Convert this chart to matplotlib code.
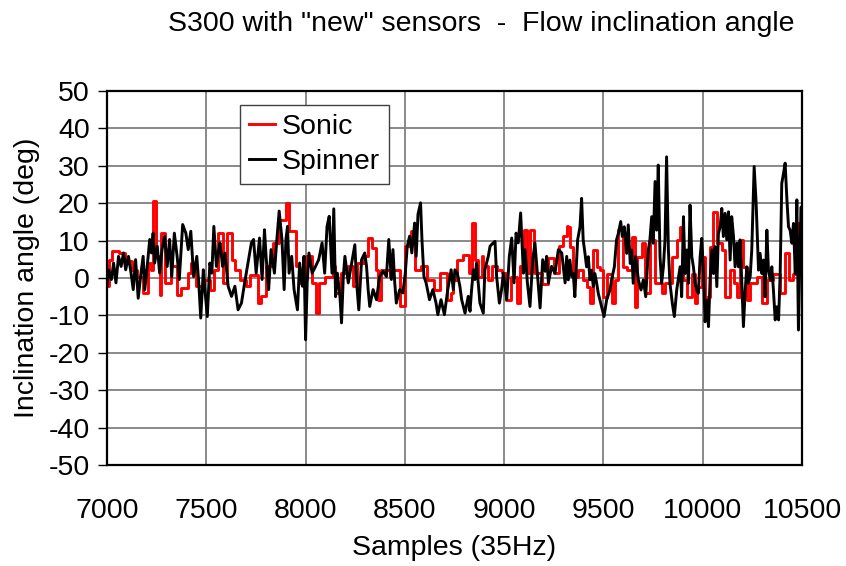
import numpy as np
import matplotlib
matplotlib.use('Agg')
from matplotlib import pyplot as plt

plt.rcParams['font.family'] = ['Liberation Sans', 'DejaVu Sans']
plt.rcParams['axes.unicode_minus'] = False

# Spinner (black) - sample index, inclination angle in degrees
spinner_samples = [
    7000, 7008, 7022, 7033, 7045, 7058, 7071, 7083, 7094, 7108, 7121, 7132, 7144, 7157,
    7171, 7182, 7190, 7204, 7215, 7224, 7232, 7240, 7253, 7265, 7277, 7290, 7303, 7315,
    7326, 7339, 7353, 7364, 7381, 7397, 7409, 7422, 7436, 7452, 7462, 7472, 7485, 7493,
    7505, 7518, 7528, 7538, 7551, 7563, 7569, 7582, 7594, 7610, 7627, 7644, 7660, 7677,
    7693, 7710, 7727, 7738, 7751, 7768, 7781, 7793, 7801, 7814, 7826, 7843, 7854, 7867,
    7881, 7892, 7901, 7909, 7917, 7930, 7942, 7959, 7970, 7984, 7992, 8000, 8008, 8017,
    8033, 8050, 8066, 8083, 8096, 8108, 8119, 8133, 8142, 8151, 8160, 8173, 8181, 8190,
    8198, 8215, 8232, 8248, 8257, 8268, 8282, 8298, 8307, 8315, 8323, 8340, 8357, 8373,
    8390, 8407, 8419, 8432, 8440, 8449, 8457, 8474, 8490, 8502, 8512, 8524, 8535, 8549,
    8557, 8566, 8579, 8586, 8596, 8607, 8624, 8641, 8657, 8666, 8682, 8699, 8716, 8733,
    8744, 8752, 8764, 8777, 8786, 8803, 8819, 8828, 8836, 8845, 8853, 8861, 8878, 8895,
    8903, 8920, 8929, 8945, 8954, 8962, 8976, 8987, 8996, 9013, 9026, 9038, 9050, 9060,
    9071, 9083, 9097, 9105, 9117, 9130, 9144, 9155, 9167, 9181, 9194, 9206, 9214, 9223,
    9239, 9256, 9273, 9290, 9307, 9315, 9323, 9331, 9340, 9348, 9356, 9370, 9382, 9390,
    9398, 9407, 9415, 9424, 9432, 9440, 9449, 9457, 9466, 9474, 9491, 9503, 9516, 9533,
    9541, 9555, 9566, 9575, 9587, 9595, 9605, 9617, 9625, 9635, 9642, 9650, 9662, 9676,
    9689, 9701, 9713, 9726, 9734, 9743, 9751, 9760, 9768, 9776, 9785, 9793, 9802, 9810,
    9818, 9827, 9835, 9847, 9857, 9869, 9886, 9894, 9903, 9911, 9920, 9928, 9936, 9945,
    9953, 9962, 9970, 9978, 9987, 9995, 10004, 10012, 10020, 10029, 10037, 10046, 10054,
    10062, 10071, 10079, 10088, 10096, 10104, 10113, 10121, 10130, 10138, 10146, 10155,
    10163, 10172, 10180, 10188, 10197, 10205, 10214, 10222, 10230, 10239, 10247, 10259,
    10269, 10281, 10289, 10298, 10306, 10314, 10323, 10331, 10340, 10348, 10356, 10365,
    10373, 10382, 10390, 10398, 10407, 10415, 10424, 10432, 10440, 10449, 10457, 10466,
    10474, 10482, 10491, 10496, 10500]
spinner_angle = [
    -2.0, 2.2, -0.4, 4.0, -1.3, 5.8, 3.1, 6.7, 2.2, 5.8, 1.3, -3.1, 4.9, -5.4,
    1.3, 5.8, -3.1, 4.0, 10.3, 6.7, 12.0, 4.0, 8.5, 1.3, 7.6, 11.2, 3.1, 10.3,
    0.4, 12.0, 5.8, -0.4, 14.3, 12.0, 7.6, 12.5, 0.4, 5.8, -1.3, -10.7, 2.2, -3.1,
    -10.3, 4.0, 1.3, 13.8, 3.1, 7.6, 9.4, 3.1, 6.7, -2.2, -4.9, -2.2, -8.5, -6.7,
    -1.3, 4.0, 9.4, 10.3, 1.3, 10.7, -0.4, 12.9, 5.8, -3.1, 7.6, 1.3, 9.4, 17.9,
    10.3, -3.1, 10.3, 13.8, 1.3, 5.8, -3.1, -8.5, 4.0, -2.2, 5.8, -16.5, -1.3, 6.7,
    1.3, 3.1, 4.9, 9.4, 1.3, 13.8, 16.5, 1.3, 18.5, -5.0, 1.3, -4.9, -12.0, 0.4,
    5.8, -1.3, 4.0, 8.9, -1.3, -8.5, 4.9, 6.7, 3.1, -3.1, -7.6, -3.1, -5.8, 0.4,
    1.8, 0.4, 10.3, -0.4, 7.6, -1.3, -6.7, -3.1, -4.0, 1.3, 8.5, 11.2, 6.7, 14.7,
    5.8, 17.0, 20.1, 10.3, 0.4, -1.3, -5.8, -3.1, -6.7, -9.8, -5.8, -9.8, -3.1, 2.2,
    -3.1, 2.2, 1.3, -2.2, -5.8, -9.4, -4.9, -8.9, -3.1, 2.2, -0.4, 4.0, -6.7, -9.4,
    2.2, 5.8, 8.5, 9.4, 9.8, 0.4, -6.7, -3.1, 1.3, -5.8, 5.8, 10.7, -1.3, 12.0,
    9.4, 17.4, 1.3, 7.6, -1.3, -7.6, 4.9, 9.4, 1.3, -8.0, 4.9, 1.8, 5.8, -1.3,
    3.1, 1.3, 7.6, 6.7, -1.3, 5.8, -0.5, 4.8, 0.4, 1.2, -5.0, 10.2, 13.7, 21.3,
    10.2, 6.6, 3.0, 5.7, -0.5, 2.1, -2.3, 1.2, -1.4, -4.1, -7.7, -10.3, -5.9, -3.2,
    -0.5, 3.0, 10.2, 11.9, 15.1, 11.1, 13.7, 6.6, 14.2, 3.9, 7.5, -1.4, 5.7, -0.5,
    -3.2, -0.5, -5.0, 7.5, 10.2, 16.4, 9.3, 25.8, 12.8, 30.2, 5.7, -1.4, 3.0, 10.2,
    32.4, 7.5, -1.4, -6.8, -10.3, -3.2, 3.0, -5.0, 16.4, 1.2, 7.5, -1.4, 19.5, 5.7,
    3.0, -1.4, -3.2, -4.1, 5.7, 10.6, 1.2, -11.7, -5.9, -13.0, -0.5, 7.5, 1.2,
    8.4, -2.3, 11.9, 13.7, 18.6, 11.1, 17.3, 10.2, 17.7, 4.8, 16.4, 11.1,
    3.0, 9.3, 3.0, 10.2, -1.4, -13.0, -3.2, 3.0, -1.4, 0.4, 7.5, 29.8,
    20.0, 2.1, 6.6, 1.2, 4.8, -5.0, 12.8, 2.1, -0.5, 3.0, -3.2, -11.2,
    -7.7, -11.2, 1.2, 25.3, 28.0, 30.7, 20.9, 13.7, 12.8, 9.3, 14.6, 1.2,
    20.9, -13.9, 10.2, 19.0, 2.0]

# Sonic (red) - held values, each starting at the given sample
sonic_samples = [
    7000, 7012, 7025, 7058, 7091, 7124, 7149, 7182, 7204, 7220, 7232, 7248, 7265, 7273,
    7293, 7323, 7353, 7373, 7406, 7422, 7447, 7489, 7518, 7538, 7558, 7586, 7602, 7627,
    7644, 7668, 7702, 7718, 7760, 7776, 7801, 7834, 7867, 7901, 7917, 7950, 7967, 8003,
    8030, 8050, 8066, 8096, 8136, 8148, 8178, 8215, 8240, 8257, 8295, 8315, 8332, 8357,
    8365, 8382, 8424, 8435, 8474, 8502, 8529, 8552, 8579, 8612, 8646, 8679, 8712, 8733,
    8744, 8761, 8794, 8824, 8836, 8853, 8870, 8887, 8895, 8917, 8937, 8962, 8987, 9009,
    9034, 9063, 9080, 9100, 9113, 9130, 9152, 9189, 9219, 9253, 9278, 9298, 9315, 9323,
    9331, 9348, 9373, 9398, 9415, 9432, 9449, 9466, 9482, 9499, 9516, 9541, 9558, 9575,
    9600, 9617, 9642, 9659, 9667, 9692, 9709, 9734, 9760, 9793, 9810, 9844, 9869, 9886,
    9903, 9920, 9945, 9962, 9970, 9995, 10012, 10037, 10054, 10071, 10096, 10113, 10138,
    10155, 10172, 10188, 10205, 10222, 10239, 10272, 10298, 10323, 10356, 10390, 10415,
    10432, 10457, 10482, 10491, 10500]
sonic_angle = [
    -2.2, 4.9, 7.1, 6.7, 4.5, 2.2, 0.4, -4.0, 4.0, 2.2, 20.5, 5.8, -4.5, 12.0,
    -1.3, 3.1, -4.5, -2.7, 1.3, 4.0, -2.2, -0.4, -3.1, 2.2, 12.0, -1.3, 12.0, 4.9,
    2.2, -0.4, -2.2, 0.9, -6.7, -4.9, 3.1, 9.4, 15.6, 20.1, 12.5, 3.1, -1.3, 5.8,
    -1.3, -9.4, -1.3, 0.4, 3.1, -4.0, 1.3, 3.1, -2.2, 4.0, 5.8, 10.7, 8.0, 2.2,
    -5.8, 2.2, 0.4, 2.2, -7.6, 8.5, 12.5, 2.2, 3.1, -0.4, -3.1, 1.3, -5.8, -4.0,
    -0.4, 4.9, 6.2, 1.3, 14.7, 4.9, 0.4, 5.8, 3.1, -0.4, 3.1, 2.2, 1.3, -5.8,
    0.4, -6.7, 3.1, 12.9, 1.3, 12.9, 1.3, -1.5, 5.4, 1.3, 8.5, 11.2, 13.8, 13.7,
    8.4, 0.4, 2.1, -0.5, -2.3, -6.8, 7.5, 3.0, 2.1, -5.0, 1.2, -6.8, -0.5, 12.8,
    3.0, 2.1, 11.1, -7.7, 5.7, 9.3, -4.1, 10.2, -1.4, -4.1, -1.4, 5.7, 10.2, 13.7,
    -0.5, -5.0, 1.2, -6.8, -2.3, 5.7, -5.0, 8.4, 17.7, 9.3, 7.5, -5.0, 2.1,
    -1.4, -5.0, 10.2, 3.0, -5.9, -1.4, 0.4, -6.8, -0.5, 1.2, -4.1, 6.6,
    -0.5, 1.2, 14.6, 3.0, 3.0]

x_ticks = [7000, 7500, 8000, 8500, 9000, 9500, 10000, 10500]
y_ticks = [-50, -40, -30, -20, -10, 0, 10, 20, 30, 40, 50]

fs = 20.5

fig = plt.figure(figsize=(8.46, 5.66), dpi=100)
ax = fig.add_axes([0.1265, 0.1784, 0.8215, 0.6608])

ax.plot(sonic_samples, sonic_angle, color='#ff0000', lw=2.1, drawstyle='steps-post', label='Sonic')
ax.plot(spinner_samples, spinner_angle, color='black', lw=2.1, label='Spinner')

ax.set_xlim(7000, 10500)
ax.set_ylim(-50, 50)
ax.set_xticks(x_ticks)
ax.set_yticks(y_ticks)
ax.grid(True, color='#808080', lw=1.3)
ax.set_axisbelow(True)
for s in ax.spines.values():
    s.set_linewidth(1.6)
    s.set_color('black')
ax.tick_params(axis='y', labelsize=fs, length=6.5, width=1, direction='out', pad=6)
ax.tick_params(axis='x', labelsize=fs, length=0, pad=24)

ax.set_xlabel('Samples (35Hz)', fontsize=fs, labelpad=8)
ax.set_ylabel('Inclination angle (deg)', fontsize=fs, labelpad=6)
fig.text(0.5686, 0.958, 'S300 with "new" sensors  -  Flow inclination angle',
         ha='center', va='center', fontsize=fs)

leg = ax.legend(loc='upper left', bbox_to_anchor=(0.191, 0.963), borderaxespad=0,
                fontsize=fs, handlelength=0.9, handletextpad=0.25, labelspacing=0.3,
                borderpad=0.33, fancybox=False, framealpha=1)
leg.get_frame().set_edgecolor('#404040')
leg.get_frame().set_linewidth(1.0)

fig.savefig('out.png', dpi=100)
